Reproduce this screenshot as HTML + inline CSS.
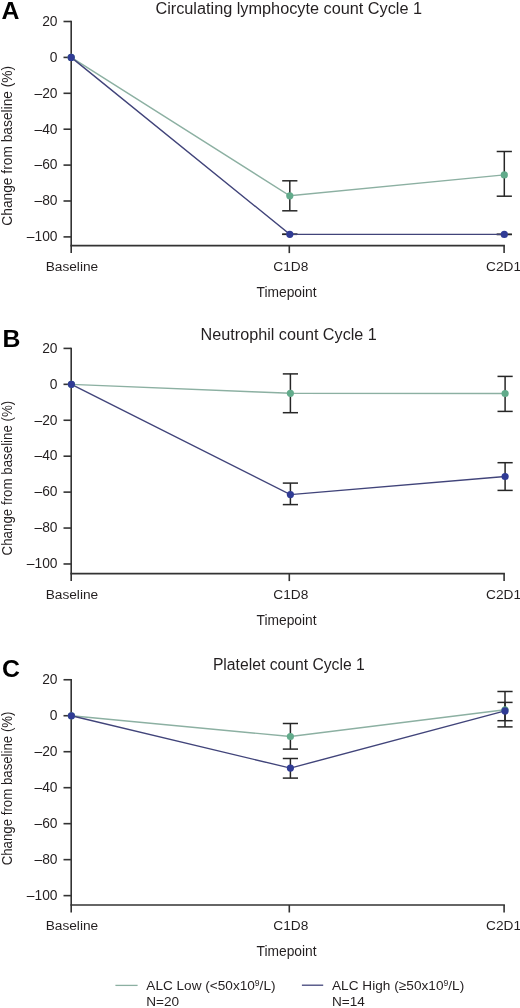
<!DOCTYPE html>
<html><head><meta charset="utf-8"><style>
html,body{margin:0;padding:0;background:#fff;}
body{width:520px;height:1008px;overflow:hidden;}
svg{display:block;font-family:"Liberation Sans", sans-serif;filter:blur(0.35px);}
</style></head><body>
<svg width="520" height="1008" viewBox="0 0 520 1008">
<rect width="520" height="1008" fill="#fff"/>
<text x="1.6" y="18.90" font-size="24.8" font-weight="bold" fill="#000">A</text>
<text x="155.40" y="13.90" font-size="16" textLength="266.70" lengthAdjust="spacingAndGlyphs" fill="#231f20">Circulating lymphocyte count Cycle 1</text>
<text transform="translate(11.7,225.70) rotate(-90)" x="0" y="0" font-size="13.8" textLength="159.90" lengthAdjust="spacingAndGlyphs" fill="#231f20">Change from baseline (%)</text>
<line x1="71.2" y1="20.80" x2="71.2" y2="253.10" stroke="#333333" stroke-width="1.6"/>
<line x1="70.4" y1="245.6" x2="504.90000000000003" y2="245.6" stroke="#333333" stroke-width="1.6"/>
<line x1="289.3" y1="245.6" x2="289.3" y2="253.10" stroke="#333333" stroke-width="1.6"/>
<line x1="504.1" y1="245.6" x2="504.1" y2="253.10" stroke="#333333" stroke-width="1.6"/>
<line x1="63.5" y1="21.50" x2="71.2" y2="21.50" stroke="#333333" stroke-width="1.6"/>
<text x="57.5" y="25.80" font-size="13.8" text-anchor="end" fill="#231f20">20</text>
<line x1="63.5" y1="57.40" x2="71.2" y2="57.40" stroke="#333333" stroke-width="1.6"/>
<text x="57.5" y="61.70" font-size="13.8" text-anchor="end" fill="#231f20">0</text>
<line x1="63.5" y1="93.30" x2="71.2" y2="93.30" stroke="#333333" stroke-width="1.6"/>
<text x="57.5" y="97.60" font-size="13.8" text-anchor="end" fill="#231f20">–20</text>
<line x1="63.5" y1="129.20" x2="71.2" y2="129.20" stroke="#333333" stroke-width="1.6"/>
<text x="57.5" y="133.50" font-size="13.8" text-anchor="end" fill="#231f20">–40</text>
<line x1="63.5" y1="165.10" x2="71.2" y2="165.10" stroke="#333333" stroke-width="1.6"/>
<text x="57.5" y="169.40" font-size="13.8" text-anchor="end" fill="#231f20">–60</text>
<line x1="63.5" y1="201.00" x2="71.2" y2="201.00" stroke="#333333" stroke-width="1.6"/>
<text x="57.5" y="205.30" font-size="13.8" text-anchor="end" fill="#231f20">–80</text>
<line x1="63.5" y1="236.90" x2="71.2" y2="236.90" stroke="#333333" stroke-width="1.6"/>
<text x="57.5" y="241.20" font-size="13.8" text-anchor="end" fill="#231f20">–100</text>
<text x="71.90" y="270.70" font-size="13.7" text-anchor="middle" fill="#231f20">Baseline</text>
<text x="290.80" y="270.70" font-size="13.7" text-anchor="middle" fill="#231f20">C1D8</text>
<text x="503.50" y="270.70" font-size="13.7" text-anchor="middle" fill="#231f20">C2D1</text>
<text x="286.6" y="296.50" font-size="13.8" text-anchor="middle" fill="#231f20">Timepoint</text>
<line x1="289.8" y1="180.8" x2="289.8" y2="210.8" stroke="#262626" stroke-width="1.5"/>
<line x1="282.20" y1="180.8" x2="297.40" y2="180.8" stroke="#262626" stroke-width="1.5"/>
<line x1="282.20" y1="210.8" x2="297.40" y2="210.8" stroke="#262626" stroke-width="1.5"/>
<line x1="504.3" y1="151.5" x2="504.3" y2="196.2" stroke="#262626" stroke-width="1.5"/>
<line x1="496.70" y1="151.5" x2="511.90" y2="151.5" stroke="#262626" stroke-width="1.5"/>
<line x1="496.70" y1="196.2" x2="511.90" y2="196.2" stroke="#262626" stroke-width="1.5"/>
<line x1="289.8" y1="234.3" x2="289.8" y2="234.3" stroke="#262626" stroke-width="1.5"/>
<line x1="282.20" y1="234.3" x2="297.40" y2="234.3" stroke="#262626" stroke-width="1.5"/>
<line x1="282.20" y1="234.3" x2="297.40" y2="234.3" stroke="#262626" stroke-width="1.5"/>
<line x1="504.3" y1="234.4" x2="504.3" y2="234.4" stroke="#262626" stroke-width="1.5"/>
<line x1="496.70" y1="234.4" x2="511.90" y2="234.4" stroke="#262626" stroke-width="1.5"/>
<line x1="496.70" y1="234.4" x2="511.90" y2="234.4" stroke="#262626" stroke-width="1.5"/>
<polyline points="71.2,57.40 289.8,195.80 504.3,174.90" fill="none" stroke="#8cb0a2" stroke-width="1.4"/>
<polyline points="71.2,57.40 289.8,234.30 504.3,234.40" fill="none" stroke="#41447a" stroke-width="1.4"/>
<circle cx="71.2" cy="57.40" r="3.6" fill="#62ab8b"/>
<circle cx="289.8" cy="195.80" r="3.6" fill="#62ab8b"/>
<circle cx="504.3" cy="174.90" r="3.6" fill="#62ab8b"/>
<circle cx="71.2" cy="57.40" r="3.6" fill="#303b95"/>
<circle cx="289.8" cy="234.30" r="3.6" fill="#303b95"/>
<circle cx="504.3" cy="234.40" r="3.6" fill="#303b95"/>
<text x="2.4" y="347.40" font-size="24.8" font-weight="bold" fill="#000">B</text>
<text x="200.60" y="339.90" font-size="16" textLength="176.20" lengthAdjust="spacingAndGlyphs" fill="#231f20">Neutrophil count Cycle 1</text>
<text transform="translate(11.7,555.40) rotate(-90)" x="0" y="0" font-size="13.8" textLength="154.70" lengthAdjust="spacingAndGlyphs" fill="#231f20">Change from baseline (%)</text>
<line x1="71.2" y1="347.70" x2="71.2" y2="581.10" stroke="#333333" stroke-width="1.6"/>
<line x1="70.4" y1="573.6" x2="504.90000000000003" y2="573.6" stroke="#333333" stroke-width="1.6"/>
<line x1="289.3" y1="573.6" x2="289.3" y2="581.10" stroke="#333333" stroke-width="1.6"/>
<line x1="504.1" y1="573.6" x2="504.1" y2="581.10" stroke="#333333" stroke-width="1.6"/>
<line x1="63.5" y1="348.40" x2="71.2" y2="348.40" stroke="#333333" stroke-width="1.6"/>
<text x="57.5" y="352.70" font-size="13.8" text-anchor="end" fill="#231f20">20</text>
<line x1="63.5" y1="384.33" x2="71.2" y2="384.33" stroke="#333333" stroke-width="1.6"/>
<text x="57.5" y="388.63" font-size="13.8" text-anchor="end" fill="#231f20">0</text>
<line x1="63.5" y1="420.26" x2="71.2" y2="420.26" stroke="#333333" stroke-width="1.6"/>
<text x="57.5" y="424.56" font-size="13.8" text-anchor="end" fill="#231f20">–20</text>
<line x1="63.5" y1="456.19" x2="71.2" y2="456.19" stroke="#333333" stroke-width="1.6"/>
<text x="57.5" y="460.49" font-size="13.8" text-anchor="end" fill="#231f20">–40</text>
<line x1="63.5" y1="492.12" x2="71.2" y2="492.12" stroke="#333333" stroke-width="1.6"/>
<text x="57.5" y="496.42" font-size="13.8" text-anchor="end" fill="#231f20">–60</text>
<line x1="63.5" y1="528.05" x2="71.2" y2="528.05" stroke="#333333" stroke-width="1.6"/>
<text x="57.5" y="532.35" font-size="13.8" text-anchor="end" fill="#231f20">–80</text>
<line x1="63.5" y1="563.98" x2="71.2" y2="563.98" stroke="#333333" stroke-width="1.6"/>
<text x="57.5" y="568.28" font-size="13.8" text-anchor="end" fill="#231f20">–100</text>
<text x="71.90" y="598.80" font-size="13.7" text-anchor="middle" fill="#231f20">Baseline</text>
<text x="290.80" y="598.80" font-size="13.7" text-anchor="middle" fill="#231f20">C1D8</text>
<text x="503.50" y="598.80" font-size="13.7" text-anchor="middle" fill="#231f20">C2D1</text>
<text x="286.6" y="624.60" font-size="13.8" text-anchor="middle" fill="#231f20">Timepoint</text>
<line x1="290.4" y1="373.9" x2="290.4" y2="412.7" stroke="#262626" stroke-width="1.5"/>
<line x1="282.80" y1="373.9" x2="298.00" y2="373.9" stroke="#262626" stroke-width="1.5"/>
<line x1="282.80" y1="412.7" x2="298.00" y2="412.7" stroke="#262626" stroke-width="1.5"/>
<line x1="505.1" y1="376.4" x2="505.1" y2="411.4" stroke="#262626" stroke-width="1.5"/>
<line x1="497.50" y1="376.4" x2="512.70" y2="376.4" stroke="#262626" stroke-width="1.5"/>
<line x1="497.50" y1="411.4" x2="512.70" y2="411.4" stroke="#262626" stroke-width="1.5"/>
<line x1="290.4" y1="483.1" x2="290.4" y2="504.6" stroke="#262626" stroke-width="1.5"/>
<line x1="282.80" y1="483.1" x2="298.00" y2="483.1" stroke="#262626" stroke-width="1.5"/>
<line x1="282.80" y1="504.6" x2="298.00" y2="504.6" stroke="#262626" stroke-width="1.5"/>
<line x1="505.1" y1="462.7" x2="505.1" y2="490.4" stroke="#262626" stroke-width="1.5"/>
<line x1="497.50" y1="462.7" x2="512.70" y2="462.7" stroke="#262626" stroke-width="1.5"/>
<line x1="497.50" y1="490.4" x2="512.70" y2="490.4" stroke="#262626" stroke-width="1.5"/>
<polyline points="71.4,384.33 290.4,393.30 505.1,393.50" fill="none" stroke="#8cb0a2" stroke-width="1.4"/>
<polyline points="71.4,384.33 290.4,494.60 505.1,476.50" fill="none" stroke="#41447a" stroke-width="1.4"/>
<circle cx="71.4" cy="384.33" r="3.6" fill="#62ab8b"/>
<circle cx="290.4" cy="393.30" r="3.6" fill="#62ab8b"/>
<circle cx="505.1" cy="393.50" r="3.6" fill="#62ab8b"/>
<circle cx="71.4" cy="384.33" r="3.6" fill="#303b95"/>
<circle cx="290.4" cy="494.60" r="3.6" fill="#303b95"/>
<circle cx="505.1" cy="476.50" r="3.6" fill="#303b95"/>
<text x="2.0" y="677.00" font-size="24.8" font-weight="bold" fill="#000">C</text>
<text x="212.90" y="669.90" font-size="16" textLength="151.90" lengthAdjust="spacingAndGlyphs" fill="#231f20">Platelet count Cycle 1</text>
<text transform="translate(11.7,865.30) rotate(-90)" x="0" y="0" font-size="13.8" textLength="153.80" lengthAdjust="spacingAndGlyphs" fill="#231f20">Change from baseline (%)</text>
<line x1="71.2" y1="679.05" x2="71.2" y2="912.50" stroke="#333333" stroke-width="1.6"/>
<line x1="70.4" y1="905.0" x2="504.90000000000003" y2="905.0" stroke="#333333" stroke-width="1.6"/>
<line x1="289.3" y1="905.0" x2="289.3" y2="912.50" stroke="#333333" stroke-width="1.6"/>
<line x1="504.1" y1="905.0" x2="504.1" y2="912.50" stroke="#333333" stroke-width="1.6"/>
<line x1="63.5" y1="679.75" x2="71.2" y2="679.75" stroke="#333333" stroke-width="1.6"/>
<text x="57.5" y="684.05" font-size="13.8" text-anchor="end" fill="#231f20">20</text>
<line x1="63.5" y1="715.73" x2="71.2" y2="715.73" stroke="#333333" stroke-width="1.6"/>
<text x="57.5" y="720.03" font-size="13.8" text-anchor="end" fill="#231f20">0</text>
<line x1="63.5" y1="751.71" x2="71.2" y2="751.71" stroke="#333333" stroke-width="1.6"/>
<text x="57.5" y="756.01" font-size="13.8" text-anchor="end" fill="#231f20">–20</text>
<line x1="63.5" y1="787.69" x2="71.2" y2="787.69" stroke="#333333" stroke-width="1.6"/>
<text x="57.5" y="791.99" font-size="13.8" text-anchor="end" fill="#231f20">–40</text>
<line x1="63.5" y1="823.67" x2="71.2" y2="823.67" stroke="#333333" stroke-width="1.6"/>
<text x="57.5" y="827.97" font-size="13.8" text-anchor="end" fill="#231f20">–60</text>
<line x1="63.5" y1="859.65" x2="71.2" y2="859.65" stroke="#333333" stroke-width="1.6"/>
<text x="57.5" y="863.95" font-size="13.8" text-anchor="end" fill="#231f20">–80</text>
<line x1="63.5" y1="895.63" x2="71.2" y2="895.63" stroke="#333333" stroke-width="1.6"/>
<text x="57.5" y="899.93" font-size="13.8" text-anchor="end" fill="#231f20">–100</text>
<text x="71.90" y="930.20" font-size="13.7" text-anchor="middle" fill="#231f20">Baseline</text>
<text x="290.80" y="930.20" font-size="13.7" text-anchor="middle" fill="#231f20">C1D8</text>
<text x="503.50" y="930.20" font-size="13.7" text-anchor="middle" fill="#231f20">C2D1</text>
<text x="286.6" y="956.10" font-size="13.8" text-anchor="middle" fill="#231f20">Timepoint</text>
<line x1="290.4" y1="723.5" x2="290.4" y2="749.1" stroke="#262626" stroke-width="1.5"/>
<line x1="282.80" y1="723.5" x2="298.00" y2="723.5" stroke="#262626" stroke-width="1.5"/>
<line x1="282.80" y1="749.1" x2="298.00" y2="749.1" stroke="#262626" stroke-width="1.5"/>
<line x1="505.0" y1="691.5" x2="505.0" y2="726.9" stroke="#262626" stroke-width="1.5"/>
<line x1="497.40" y1="691.5" x2="512.60" y2="691.5" stroke="#262626" stroke-width="1.5"/>
<line x1="497.40" y1="726.9" x2="512.60" y2="726.9" stroke="#262626" stroke-width="1.5"/>
<line x1="290.4" y1="758.5" x2="290.4" y2="778.1" stroke="#262626" stroke-width="1.5"/>
<line x1="282.80" y1="758.5" x2="298.00" y2="758.5" stroke="#262626" stroke-width="1.5"/>
<line x1="282.80" y1="778.1" x2="298.00" y2="778.1" stroke="#262626" stroke-width="1.5"/>
<line x1="505.0" y1="702.4" x2="505.0" y2="720.7" stroke="#262626" stroke-width="1.5"/>
<line x1="497.40" y1="702.4" x2="512.60" y2="702.4" stroke="#262626" stroke-width="1.5"/>
<line x1="497.40" y1="720.7" x2="512.60" y2="720.7" stroke="#262626" stroke-width="1.5"/>
<polyline points="71.4,715.73 290.4,736.50 505.0,709.80" fill="none" stroke="#8cb0a2" stroke-width="1.4"/>
<polyline points="71.4,715.73 290.4,768.10 505.0,710.90" fill="none" stroke="#41447a" stroke-width="1.4"/>
<circle cx="71.4" cy="715.73" r="3.6" fill="#62ab8b"/>
<circle cx="290.4" cy="736.50" r="3.6" fill="#62ab8b"/>
<circle cx="505.0" cy="709.80" r="3.6" fill="#62ab8b"/>
<circle cx="71.4" cy="715.73" r="3.6" fill="#303b95"/>
<circle cx="290.4" cy="768.10" r="3.6" fill="#303b95"/>
<circle cx="505.0" cy="710.90" r="3.6" fill="#303b95"/>
<line x1="115.4" y1="985.4" x2="137.6" y2="985.4" stroke="#8cb0a2" stroke-width="1.3"/>
<line x1="301.9" y1="985.2" x2="323.2" y2="985.2" stroke="#41447a" stroke-width="1.3"/>
<text x="146.3" y="990.3" font-size="13.6" textLength="129.2" lengthAdjust="spacing" fill="#231f20">ALC Low (&lt;50x10<tspan font-size="8.6" dy="-4.6">9</tspan><tspan dy="4.6">/L)</tspan></text>
<text x="146.3" y="1006.4" font-size="13.6" fill="#231f20">N=20</text>
<text x="332.0" y="990.3" font-size="13.6" textLength="132.2" lengthAdjust="spacing" fill="#231f20">ALC High (≥50x10<tspan font-size="8.6" dy="-4.6">9</tspan><tspan dy="4.6">/L)</tspan></text>
<text x="332.0" y="1006.4" font-size="13.6" fill="#231f20">N=14</text>
</svg>
</body></html>
